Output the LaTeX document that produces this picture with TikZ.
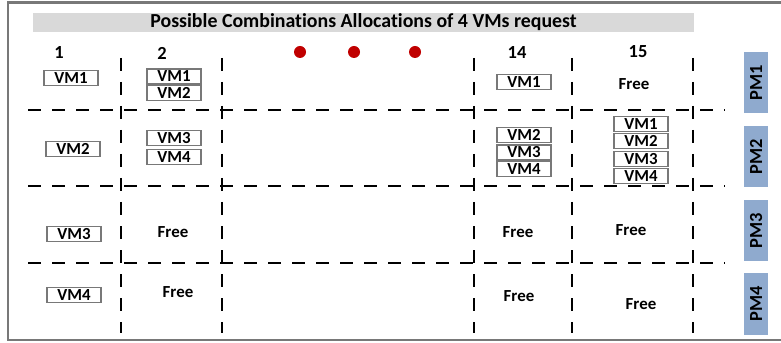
\documentclass[tikz,border=0pt]{standalone}
\usepackage{fontspec}
\setmainfont{Carlito}[Ligatures=NoCommon]
\usepackage{tikz}

\definecolor{framegray}{RGB}{120,120,120}
\definecolor{bargray}{RGB}{217,217,217}
\definecolor{dotred}{RGB}{192,0,0}
\definecolor{pmblue}{RGB}{143,170,206}

\begin{document}
\begin{tikzpicture}[x=0.2mm,y=-0.2mm,
  vmbox/.style={draw=framegray,line width=0.9pt,minimum width=10.8mm,minimum height=3mm,inner sep=0pt,font=\bfseries\fontsize{9.6}{10}\selectfont},
  freetxt/.style={inner sep=0pt,font=\bfseries\fontsize{9.6}{10}\selectfont},
  colnum/.style={inner sep=0pt,font=\bfseries\fontsize{10.5}{11}\selectfont},
  reddot/.style={circle,fill=dotred,minimum size=2.4mm,inner sep=0pt},
  pmbox/.style={fill=pmblue,rotate=90,minimum width=12.2mm,minimum height=4.8mm,inner sep=0pt,font=\bfseries\fontsize{10.5}{11}\selectfont},
  gridline/.style={line width=1.4pt,dash pattern=on 2.6mm off 2.2mm}]
\useasboundingbox (0,0) rectangle (781,343);
\draw [framegray, line width=1.7pt] (781,3)--(8,3)--(8,340)--(781,340);
\node [fill=bargray,minimum width=132.2mm,minimum height=3.8mm,inner sep=0pt,font=\bfseries\fontsize{11.3}{12}\selectfont] (title) at (363.5,22.5) {Possible Combinations Allocations of 4 VMs request};
\node [colnum] (n1) at (59,53) {1};
\node [colnum] (n2) at (162,53) {2};
\node [colnum] (n14) at (517,53) {14};
\node [colnum] (n15) at (638,52) {15};
\node [reddot] (d1) at (300,52) {};
\node [reddot] (d2) at (354,52) {};
\node [reddot] (d3) at (415,52) {};
\draw [gridline] (121,58)--(121,333);
\draw [gridline] (222,58)--(222,333);
\draw [gridline] (474,58)--(474,333);
\draw [gridline] (572,58)--(572,333);
\draw [gridline] (693,58)--(693,333);
\draw [gridline] (28,110)--(725,110);
\draw [gridline] (28,186)--(725,186);
\draw [gridline] (28,263)--(725,263);
\node [vmbox] (a1) at (71,78) {VM1};
\node [vmbox] (a2) at (73,149) {VM2};
\node [vmbox] (a3) at (74,234) {VM3};
\node [vmbox] (a4) at (74,295) {VM4};
\node [vmbox] (b1) at (174,76.5) {VM1};
\node [vmbox] (b2) at (174,93) {VM2};
\node [vmbox] (b3) at (174,138) {VM3};
\node [vmbox] (b4) at (174,157) {VM4};
\node [freetxt] (b5) at (173,232) {Free};
\node [freetxt] (b6) at (178,292) {Free};
\node [vmbox] (c1) at (524,82) {VM1};
\node [vmbox] (c2) at (524,135) {VM2};
\node [vmbox] (c3) at (524,152.5) {VM3};
\node [vmbox] (c4) at (524,169) {VM4};
\node [freetxt] (c5) at (518,232) {Free};
\node [freetxt] (c6) at (519,296) {Free};
\node [freetxt] (e0) at (634,84) {Free};
\node [vmbox] (e1) at (641,124) {VM1};
\node [vmbox] (e2) at (641,141) {VM2};
\node [vmbox] (e3) at (641,159) {VM3};
\node [vmbox] (e4) at (641,176) {VM4};
\node [freetxt] (e5) at (631,230) {Free};
\node [freetxt] (e6) at (641,304) {Free};
\node [pmbox] (pm1) at (756,82.5) {PM1};
\node [pmbox] (pm2) at (756,156.5) {PM2};
\node [pmbox] (pm3) at (756,230.5) {PM3};
\node [pmbox] (pm4) at (756,304) {PM4};
\end{tikzpicture}
\end{document}
